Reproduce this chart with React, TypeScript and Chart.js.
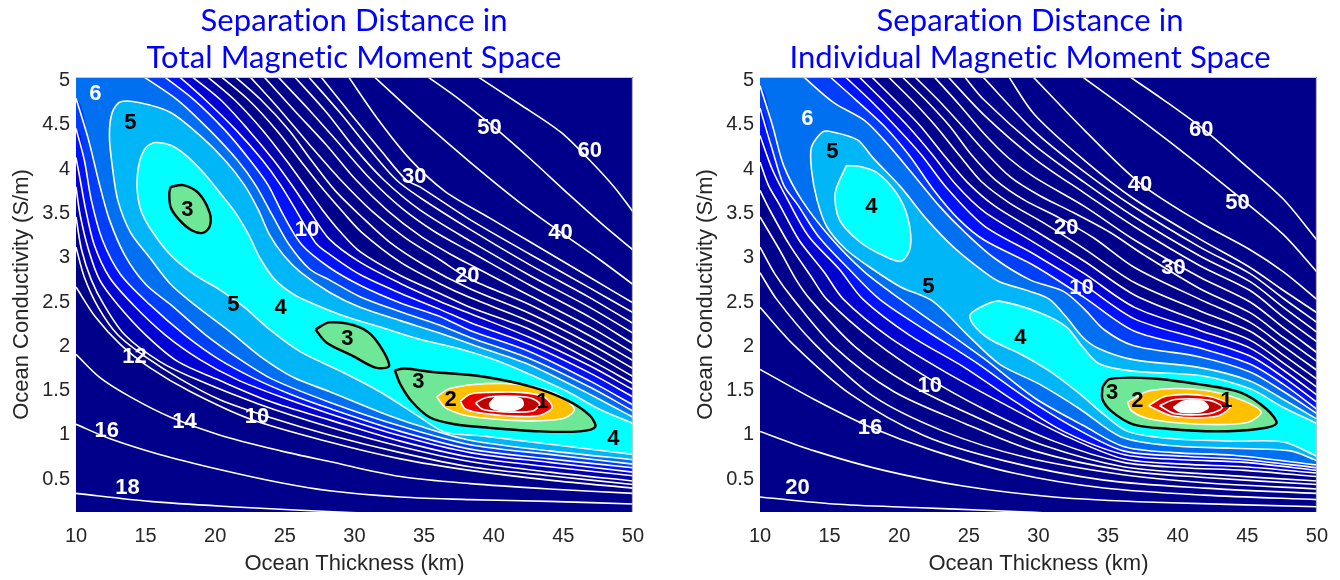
import React, { useEffect, useRef } from "react";
import { Chart, registerables } from "chart.js";

Chart.register(...registerables);

type Pt = [number, number];

// ---------------- axes / text ----------------
const X_TICKS = [10, 15, 20, 25, 30, 35, 40, 45, 50];
const Y_TICKS = [0.5, 1, 1.5, 2, 2.5, 3, 3.5, 4, 4.5, 5];
const X_LABEL = "Ocean Thickness (km)";
const Y_LABEL = "Ocean Conductivity (S/m)";
const A_TITLE = ["Separation Distance in", "Total Magnetic Moment Space"];
const B_TITLE = ["Separation Distance in", "Individual Magnetic Moment Space"];

// ---------------- LEFT panel: contour lines (km, S/m) ----------------
// upper-right family
const A_U60: Pt[] = [[38.7,5.06],[41.9,4.73],[44.8,4.42],[46.9,4.10],[48.7,3.79],[50.0,3.52]];
const A_U50: Pt[] = [[35.1,5.06],[37.6,4.78],[39.9,4.49],[42.6,4.12],[45.5,3.70],[48.0,3.35],[50.0,3.09]];
const A_U40: Pt[] = [[31.3,5.06],[34.7,4.57],[38.3,4.08],[41.9,3.62],[44.8,3.29],[47.6,2.98],[50.0,2.70]];
const A_U30: Pt[] = [[29.5,5.06],[31.7,4.56],[34.0,4.11],[36.5,3.75],[39.7,3.45],[42.6,3.18],[46.9,2.78],[50.0,2.49]];
const A_UC: Pt[] = [[27.5,5.06],[29.9,4.59],[31.9,4.21],[33.7,3.88],[34.7,3.80],[38.3,3.43],[42.6,3.04],[46.9,2.66],[50.0,2.38]];
const A_UB: Pt[] = [[26.6,5.06],[29.0,4.63],[31.0,4.24],[33.0,3.88],[34.7,3.68],[38.3,3.32],[42.6,2.92],[46.9,2.55],[50.0,2.26]];
const A_UA: Pt[] = [[25.6,5.06],[28.0,4.64],[30.0,4.24],[32.1,3.88],[34.7,3.54],[38.3,3.19],[42.6,2.80],[46.9,2.44],[50.0,2.15]];
const A_U20: Pt[] = [[24.4,5.06],[26.8,4.66],[29.0,4.27],[31.2,3.88],[33.4,3.56],[35.8,3.29],[38.3,3.07],[42.6,2.69],[46.9,2.33],[50.0,2.03]];
const A_U18: Pt[] = [[23.4,5.06],[25.7,4.66],[28.0,4.27],[30.1,3.88],[32.4,3.53],[34.7,3.25],[36.9,3.04],[38.7,2.89],[42.6,2.57],[46.9,2.22],[50.0,1.93]];
const A_U16: Pt[] = [[22.4,5.06],[24.7,4.66],[26.8,4.27],[29.0,3.88],[31.3,3.52],[33.6,3.23],[36.1,2.98],[38.3,2.76],[42.6,2.47],[46.9,2.12],[50.0,1.84]];
const A_U14: Pt[] = [[21.3,5.06],[23.3,4.78],[25.3,4.44],[26.9,4.10],[28.6,3.76],[30.4,3.48],[32.5,3.18],[35.1,2.91],[38.3,2.65],[42.6,2.37],[46.9,2.03],[50.0,1.75]];
const A_U12: Pt[] = [[20.3,5.06],[22.4,4.78],[24.4,4.44],[26.1,4.10],[27.5,3.82],[29.2,3.51],[30.5,3.29],[33.3,2.95],[36.1,2.71],[38.3,2.55],[42.6,2.28],[46.9,1.94],[50.0,1.66]];
const A_U10: Pt[] = [[19.3,5.06],[21.4,4.78],[23.4,4.44],[25.1,4.10],[26.4,3.82],[27.7,3.54],[29.0,3.29],[30.4,3.07],[33.3,2.80],[36.1,2.60],[38.3,2.44],[42.6,2.19],[46.9,1.85],[50.0,1.58]];
const A_U9: Pt[] = [[18.2,5.06],[20.4,4.78],[22.4,4.44],[24.2,4.10],[25.5,3.82],[26.8,3.52],[28.2,3.21],[30.4,2.95],[33.3,2.71],[36.1,2.51],[38.3,2.37],[42.6,2.10],[46.9,1.78],[50.0,1.51]];
const A_U8: Pt[] = [[17.3,5.06],[19.3,4.78],[21.5,4.44],[23.4,4.10],[24.7,3.82],[25.9,3.51],[27.2,3.17],[28.2,3.04],[30.4,2.81],[33.3,2.60],[36.1,2.42],[38.3,2.27],[42.6,2.02],[46.9,1.70],[50.0,1.43]];
const A_U7: Pt[] = [[16.2,5.06],[18.5,4.78],[20.7,4.44],[22.5,4.10],[23.8,3.82],[24.9,3.48],[26.2,3.15],[28.2,2.89],[30.4,2.69],[33.3,2.49],[36.1,2.34],[38.3,2.18],[42.6,1.94],[46.9,1.61],[50.0,1.34]];
const A_U6: Pt[] = [[14.7,5.06],[17.3,4.78],[19.6,4.44],[21.6,4.10],[22.9,3.82],[24.1,3.48],[25.3,3.15],[26.8,2.87],[28.2,2.75],[30.4,2.56],[33.3,2.39],[36.1,2.24],[38.3,2.10],[42.6,1.86],[46.9,1.54],[50.0,1.27]];
// lower-left family
const A_D6: Pt[] = [[10.0,4.80],[10.9,4.33],[11.7,3.82],[12.4,3.43],[13.5,3.03],[15.0,2.70],[16.8,2.47],[19.3,2.13],[21.8,1.85],[24.1,1.63],[28.2,1.37],[33.3,1.10],[38.3,0.89],[44.0,0.78],[50.0,0.67]];
const A_D7: Pt[] = [[10.0,4.46],[10.6,4.10],[11.1,3.65],[11.9,3.20],[13.2,2.81],[15.3,2.47],[17.8,2.13],[20.3,1.85],[22.9,1.63],[25.4,1.46],[28.2,1.30],[33.3,1.04],[38.3,0.84],[44.0,0.73],[50.0,0.63]];
const A_D8: Pt[] = [[10.0,4.13],[10.3,3.88],[10.7,3.54],[11.3,3.15],[12.4,2.78],[14.1,2.47],[16.4,2.13],[18.9,1.85],[21.5,1.63],[24.7,1.43],[28.2,1.24],[33.3,0.99],[38.3,0.80],[44.0,0.69],[50.0,0.58]];
const A_D9: Pt[] = [[10.0,3.80],[10.3,3.48],[10.9,3.09],[11.7,2.75],[13.0,2.47],[15.0,2.13],[17.3,1.83],[20.1,1.63],[23.9,1.38],[28.2,1.17],[33.3,0.93],[38.3,0.75],[44.0,0.64],[50.0,0.54]];
const A_D10: Pt[] = [[10.0,3.46],[10.4,3.09],[11.1,2.75],[12.0,2.47],[13.5,2.13],[16.0,1.83],[18.6,1.63],[23.1,1.35],[28.2,1.09],[33.3,0.87],[38.3,0.70],[44.0,0.58],[50.0,0.48]];
const A_D11: Pt[] = [[10.0,3.12],[10.6,2.78],[11.6,2.44],[13.0,2.13],[15.0,1.88],[17.5,1.63],[20.3,1.40],[23.9,1.20],[28.2,1.00],[33.3,0.80],[38.3,0.64],[44.0,0.54],[50.0,0.44]];
const A_D12: Pt[] = [[10.0,2.67],[11.4,2.33],[13.2,2.02],[15.3,1.76],[18.2,1.49],[22.5,1.18],[28.2,0.92],[33.3,0.73],[38.3,0.60],[44.0,0.49],[50.0,0.40]];
const A_D14: Pt[] = [[10.0,1.91],[11.7,1.65],[13.9,1.43],[16.8,1.20],[20.3,1.00],[24.7,0.82],[28.2,0.70],[33.3,0.53],[38.3,0.45],[44.0,0.39],[50.0,0.34]];
const A_D16: Pt[] = [[10.0,1.12],[12.4,0.96],[16.0,0.78],[20.3,0.61],[24.7,0.46],[28.2,0.37],[33.3,0.30],[38.3,0.27],[44.0,0.25],[50.0,0.22]];
const A_D18: Pt[] = [[10.0,0.34],[15.3,0.25],[21.1,0.19],[26.1,0.15],[33.3,0.10]];
// valley contours (U-shaped, open to the right edge)
const A_L5: Pt[] = [[50.0,1.20],[46.9,1.46],[42.6,1.79],[39.0,1.99],[36.1,2.15],[33.3,2.29],[30.4,2.44],[28.2,2.61],[26.1,2.84],[24.9,3.03],[23.9,3.26],[23.1,3.54],[22.1,3.82],[20.7,4.10],[18.9,4.38],[16.8,4.64],[14.6,4.75],[13.2,4.76],[12.6,4.64],[12.4,4.38],[12.6,4.04],[13.0,3.65],[13.9,3.29],[15.3,3.00],[16.8,2.70],[18.5,2.47],[21.1,2.16],[23.2,1.89],[25.6,1.65],[28.2,1.49],[31.8,1.26],[34.7,1.10],[38.3,0.94],[44.0,0.82],[50.0,0.72]];
const A_L4: Pt[] = [[50.0,1.13],[47.6,1.29],[45.3,1.49],[42.8,1.67],[40.4,1.83],[37.6,1.97],[34.7,2.08],[31.8,2.22],[29.3,2.34],[27.2,2.47],[25.7,2.58],[24.3,2.75],[23.2,3.00],[22.4,3.26],[21.4,3.52],[20.3,3.74],[19.1,3.97],[17.8,4.17],[16.8,4.27],[15.7,4.30],[15.0,4.24],[14.5,4.04],[14.4,3.76],[14.7,3.52],[15.5,3.29],[16.8,3.03],[18.5,2.81],[20.3,2.64],[22.1,2.44],[23.9,2.19],[26.1,1.94],[29.0,1.72],[31.8,1.49],[34.7,1.20],[36.5,1.03],[39.0,0.99],[41.2,0.95],[44.8,0.88],[50.0,0.78]];
// closed loops
const A_C3A: Pt[] = [[16.8,3.80],[17.7,3.82],[18.8,3.73],[19.6,3.51],[19.6,3.35],[19.1,3.28],[18.3,3.31],[17.4,3.43],[16.8,3.57],[16.7,3.73]];
const A_C3B: Pt[] = [[27.2,2.19],[28.2,2.27],[30.3,2.22],[31.5,2.08],[32.5,1.78],[31.5,1.76],[29.9,1.89],[28.0,2.04]];
const A_C3C: Pt[] = [[32.9,1.73],[33.6,1.75],[35.6,1.71],[39.2,1.66],[42.8,1.54],[45.3,1.39],[46.9,1.22],[47.3,1.09],[46.2,1.04],[43.3,1.04],[39.7,1.08],[37.2,1.12],[35.4,1.20],[34.1,1.38],[33.3,1.57]];
const A_C2: Pt[] = [[35.9,1.43],[36.8,1.52],[38.6,1.57],[40.8,1.58],[43.0,1.54],[44.8,1.44],[45.8,1.29],[45.1,1.19],[43.3,1.16],[40.8,1.17],[38.3,1.21],[36.6,1.30]];
const A_C1: Pt[] = [[37.6,1.38],[38.3,1.46],[39.7,1.48],[41.9,1.48],[43.6,1.43],[44.2,1.31],[43.3,1.22],[41.5,1.21],[39.4,1.24],[38.0,1.29]];
const A_C075: Pt[] = [[38.7,1.36],[39.4,1.42],[40.8,1.44],[42.6,1.42],[43.3,1.35],[42.8,1.27],[40.8,1.26],[39.2,1.29]];
const A_C05: Pt[] = [[39.7,1.35],[40.1,1.42],[41.1,1.43],[42.0,1.40],[42.1,1.33],[41.5,1.28],[40.4,1.28],[39.8,1.31]];
// contour labels [x, y, text, dark]
const A_LABELS: [number, number, string, number][] = [
  [11.4,4.85,"6",0],[13.9,4.52,"5",1],[18.0,3.54,"3",1],[26.6,3.31,"10",0],[34.3,3.91,"30",0],
  [39.7,4.46,"50",0],[46.9,4.21,"60",0],[44.8,3.28,"40",0],[38.1,2.80,"20",0],[21.3,2.47,"5",1],
  [24.7,2.43,"4",1],[29.5,2.08,"3",1],[14.2,1.88,"12",0],[34.6,1.60,"3",1],[36.9,1.40,"2",1],
  [43.5,1.37,"1",1],[17.8,1.15,"14",0],[23.0,1.20,"10",0],[12.2,1.04,"16",0],[48.6,0.96,"4",1],[13.7,0.40,"18",0],
];

// ---------------- RIGHT panel ----------------
const B_U60: Pt[] = [[36.4,5.06],[39.0,4.78],[41.7,4.47],[44.8,4.05],[47.6,3.66],[50.0,3.20]];
const B_U50: Pt[] = [[33.0,5.06],[36.9,4.61],[40.4,4.19],[44.3,3.70],[47.6,3.26],[50.0,2.84]];
const B_U40: Pt[] = [[29.5,5.06],[33.3,4.44],[37.3,3.84],[41.6,3.40],[45.2,3.09],[47.6,2.84],[50.0,2.53]];
const B_U30: Pt[] = [[27.8,5.06],[29.7,4.62],[33.3,4.10],[36.9,3.66],[41.6,3.21],[45.2,2.89],[47.6,2.63],[50.0,2.38]];
const B_UB: Pt[] = [[25.9,5.06],[29.7,4.43],[33.3,3.97],[36.9,3.57],[41.6,3.12],[45.2,2.82],[47.6,2.54],[50.0,2.27]];
const B_UA: Pt[] = [[24.6,5.06],[26.1,4.78],[29.7,4.27],[33.3,3.85],[36.9,3.46],[41.6,3.02],[45.2,2.73],[47.6,2.44],[50.0,2.16]];
const B_U20: Pt[] = [[23.4,5.06],[26.1,4.61],[29.7,4.12],[33.3,3.73],[36.9,3.35],[41.6,2.91],[45.2,2.63],[47.6,2.33],[50.0,2.05]];
const B_U18: Pt[] = [[22.4,5.06],[24.3,4.73],[26.1,4.40],[27.9,4.12],[29.7,3.91],[33.3,3.58],[36.9,3.20],[41.6,2.78],[45.2,2.50],[47.6,2.21],[50.0,1.93]];
const B_U16: Pt[] = [[21.0,5.06],[22.8,4.78],[24.5,4.49],[26.2,4.19],[28.0,3.91],[30.1,3.70],[32.5,3.51],[35.1,3.29],[37.6,3.03],[41.6,2.65],[45.2,2.38],[47.6,2.10],[50.0,1.83]];
const B_U14: Pt[] = [[20.1,5.06],[21.9,4.78],[23.6,4.49],[25.2,4.16],[26.9,3.88],[29.0,3.65],[31.5,3.45],[34.0,3.22],[36.9,2.89],[41.6,2.53],[45.2,2.27],[47.6,2.00],[50.0,1.73]];
const B_U12: Pt[] = [[19.1,5.06],[20.9,4.78],[22.6,4.49],[24.3,4.16],[25.9,3.86],[27.9,3.62],[30.4,3.39],[33.3,3.10],[36.9,2.72],[41.6,2.40],[45.2,2.17],[47.6,1.90],[50.0,1.63]];
const B_U10: Pt[] = [[17.9,5.06],[19.7,4.78],[21.5,4.49],[23.2,4.16],[24.9,3.85],[26.8,3.59],[29.7,3.31],[33.3,2.96],[36.9,2.58],[41.6,2.28],[45.2,2.07],[47.6,1.81],[50.0,1.54]];
const B_U9: Pt[] = [[17.0,5.06],[18.8,4.78],[20.6,4.49],[22.4,4.16],[24.1,3.82],[26.1,3.52],[29.7,3.17],[33.3,2.82],[36.9,2.44],[41.6,2.18],[45.2,1.98],[47.6,1.73],[50.0,1.45]];
const B_U8: Pt[] = [[16.0,5.06],[17.9,4.78],[19.7,4.49],[21.6,4.16],[23.4,3.79],[26.1,3.36],[29.7,3.04],[33.3,2.69],[36.9,2.31],[41.6,2.08],[45.2,1.89],[47.6,1.65],[50.0,1.37]];
const B_U7: Pt[] = [[14.9,5.06],[16.9,4.78],[18.9,4.49],[20.7,4.16],[22.5,3.76],[24.3,3.43],[26.1,3.20],[29.7,2.91],[33.3,2.55],[36.9,2.17],[41.6,1.98],[45.2,1.80],[47.6,1.57],[50.0,1.29]];
const B_U6: Pt[] = [[13.0,5.06],[15.3,4.75],[17.5,4.55],[18.9,4.33],[20.9,3.96],[22.9,3.58],[24.7,3.29],[26.8,3.00],[29.4,2.75],[31.8,2.62],[33.3,2.42],[34.7,2.19],[36.8,2.01],[41.6,1.88],[45.2,1.71],[47.6,1.49],[50.0,1.24]];
const B_D6: Pt[] = [[10.0,4.94],[10.9,4.49],[11.7,4.04],[13.0,3.65],[15.0,3.24],[17.5,2.84],[20.1,2.53],[22.9,2.22],[26.1,1.86],[29.7,1.42],[33.3,1.10],[36.1,0.87],[39.7,0.80],[44.0,0.77],[50.0,0.66]];
const B_D7: Pt[] = [[10.0,4.69],[10.9,4.21],[11.7,3.82],[12.7,3.60],[14.2,3.24],[16.4,2.87],[18.6,2.53],[21.8,2.19],[25.4,1.83],[29.0,1.43],[32.5,1.09],[36.1,0.82],[40.4,0.76],[44.8,0.72],[50.0,0.63]];
const B_D8: Pt[] = [[10.0,4.38],[10.9,3.99],[12.0,3.65],[13.5,3.24],[15.7,2.87],[17.4,2.53],[20.7,2.13],[24.7,1.76],[28.2,1.39],[31.8,1.04],[36.1,0.78],[40.4,0.72],[44.8,0.69],[50.0,0.60]];
const B_D9: Pt[] = [[10.0,4.08],[10.6,3.82],[11.4,3.60],[12.8,3.20],[14.6,2.84],[16.0,2.53],[19.3,2.10],[23.2,1.72],[27.5,1.35],[31.8,1.00],[36.1,0.73],[40.4,0.67],[44.8,0.64],[50.0,0.57]];
const B_D10: Pt[] = [[10.0,3.76],[10.7,3.54],[12.1,3.15],[13.7,2.78],[14.8,2.53],[18.2,2.06],[22.0,1.65],[26.1,1.29],[31.1,0.93],[36.1,0.69],[40.4,0.63],[44.8,0.60],[50.0,0.53]];
const B_D11: Pt[] = [[10.0,3.46],[11.4,3.09],[12.6,2.75],[13.6,2.53],[16.8,2.00],[20.6,1.58],[25.4,1.21],[30.4,0.88],[36.1,0.64],[41.9,0.56],[50.0,0.48]];
const B_D12: Pt[] = [[10.0,3.12],[11.1,2.81],[12.4,2.53],[15.3,2.00],[19.6,1.49],[24.7,1.13],[29.7,0.82],[36.1,0.60],[41.9,0.52],[50.0,0.44]];
const B_D13: Pt[] = [[10.0,2.83],[11.2,2.53],[13.9,2.03],[18.1,1.44],[23.2,1.04],[29.0,0.75],[36.1,0.55],[41.9,0.46],[50.0,0.39]];
const B_D14: Pt[] = [[10.0,2.44],[12.4,2.02],[16.5,1.46],[21.8,0.99],[27.5,0.71],[34.7,0.49],[41.9,0.40],[50.0,0.34]];
const B_D16: Pt[] = [[10.0,1.74],[13.9,1.40],[17.9,1.09],[22.5,0.82],[28.2,0.57],[34.7,0.40],[41.9,0.32],[50.0,0.27]];
const B_D18: Pt[] = [[10.0,1.04],[13.9,0.82],[18.9,0.60],[24.7,0.42],[31.1,0.30],[38.3,0.24],[50.0,0.19]];
const B_D20: Pt[] = [[10.0,0.30],[15.3,0.22],[21.1,0.18],[26.1,0.15],[33.3,0.10]];
const B_L5: Pt[] = [[50.0,1.18],[47.6,1.40],[45.2,1.61],[41.6,1.76],[36.8,1.85],[34.4,1.97],[33.2,2.10],[32.0,2.33],[30.8,2.53],[29.4,2.62],[27.2,2.73],[26.1,2.84],[23.9,3.12],[22.0,3.43],[20.1,3.80],[18.1,4.13],[17.0,4.33],[15.2,4.42],[14.5,4.42],[13.7,4.25],[13.7,3.99],[14.1,3.65],[14.8,3.35],[16.2,3.09],[18.1,2.87],[20.1,2.67],[22.4,2.51],[24.9,2.13],[27.2,1.80],[30.1,1.57],[33.0,1.29],[35.9,0.98],[39.4,0.88],[43.8,0.85],[48.1,0.82],[50.0,0.71]];
const B_L4: Pt[] = [[50.0,1.13],[47.6,1.31],[45.2,1.52],[41.6,1.67],[36.8,1.72],[34.4,1.80],[33.2,1.99],[32.0,2.22],[30.1,2.38],[27.2,2.51],[26.2,2.47],[25.1,2.36],[25.3,2.25],[26.5,2.08],[28.5,1.93],[30.8,1.72],[33.0,1.46],[34.4,1.27],[36.4,1.04],[39.4,0.96],[43.8,0.93],[47.6,0.92],[50.0,0.76]];
const B_C4A: Pt[] = [[16.2,4.04],[15.4,3.73],[15.7,3.43],[17.0,3.20],[18.4,3.06],[20.1,2.96],[20.8,3.12],[20.6,3.46],[19.8,3.73],[18.4,3.96],[17.2,4.03]];
const B_C3: Pt[] = [[34.6,1.54],[35.1,1.63],[38.0,1.64],[41.6,1.57],[44.5,1.48],[46.4,1.29],[47.1,1.13],[45.9,1.07],[42.8,1.04],[39.2,1.07],[36.8,1.12],[35.3,1.26],[34.6,1.40]];
const B_C2: Pt[] = [[36.4,1.37],[38.0,1.50],[41.6,1.51],[44.5,1.40],[46.0,1.26],[45.0,1.14],[41.6,1.12],[38.0,1.18],[36.7,1.27]];
const B_C1: Pt[] = [[37.9,1.33],[39.2,1.44],[42.1,1.44],[43.8,1.33],[42.8,1.21],[39.7,1.21]];
const B_C075: Pt[] = [[38.7,1.33],[39.8,1.40],[42.3,1.39],[43.2,1.31],[42.3,1.24],[39.8,1.24]];
const B_C05: Pt[] = [[39.7,1.31],[40.4,1.38],[41.8,1.38],[42.2,1.31],[41.6,1.26],[40.2,1.26]];
const B_LABELS: [number, number, string, number][] = [
  [13.4,4.57,"6",0],[15.2,4.19,"5",1],[18.0,3.57,"4",1],[41.7,4.44,"60",0],[37.3,3.82,"40",0],
  [44.3,3.62,"50",0],[32.0,3.34,"20",0],[39.7,2.89,"30",0],[33.1,2.66,"10",0],[22.1,2.67,"5",1],
  [28.7,2.09,"4",1],[22.2,1.55,"10",0],[17.9,1.08,"16",0],[35.3,1.47,"3",1],[37.1,1.38,"2",1],
  [43.5,1.38,"1",1],[12.7,0.40,"20",0],
];

// ---------------- styles ----------------
const NAVY = "rgb(0,0,139)";
const BAND = {
  b9: "rgb(0,0,172)",
  b8: "rgb(0,0,210)",
  b7: "rgb(0,18,252)",
  b6: "rgb(0,62,250)",
  b5: "rgb(0,112,240)",
  b4: "rgb(0,182,246)",
  b3: "rgb(0,255,255)",
  b2: "rgb(110,232,150)",
  b1: "rgb(255,192,0)",
  red: "rgb(230,0,0)",
  dred: "rgb(190,0,0)",
  white: "rgb(255,255,255)",
};
const TEXT = "#262626";
const AXIS_FONT = '"Liberation Sans", Arial, Helvetica, sans-serif';
const TENSION = 0.3;
const W = 656;
const H = 580;

// ---------------- helpers ----------------
const xy = (a: Pt[]) => a.map(([x, y]) => ({ x, y }));
const closed = (a: Pt[]): Pt[] => [...a, a[0]];
function openBand(upper: Pt[], lower: Pt[]): Pt[] {
  const ue = upper[upper.length - 1];
  const le = lower[lower.length - 1];
  const pts: Pt[] = [...upper, [53, ue[1]], [53, le[1]]];
  for (let i = lower.length - 1; i >= 0; i--) pts.push(lower[i]);
  pts.push([7, lower[0][1]], [7, 5.6], [upper[0][0], 5.6]);
  return pts;
}
function uBand(c: Pt[]): Pt[] {
  const a = c[0];
  const b = c[c.length - 1];
  return [...c, [53, b[1]], [53, a[1]]];
}
const fillDs = (p: Pt[], color: string) => ({
  data: xy(p), showLine: true, fill: "shape", backgroundColor: color,
  borderColor: "rgba(0,0,0,0)", borderWidth: 0, pointRadius: 0, tension: TENSION,
});
const lineDs = (p: Pt[], color: string, w: number) => ({
  data: xy(p), showLine: true, fill: false, borderColor: color,
  borderWidth: w, pointRadius: 0, tension: TENSION,
});

const bgPlugin = {
  id: "plotBg",
  beforeDatasetsDraw(chart: any) {
    const { ctx, chartArea: a } = chart;
    ctx.save();
    ctx.fillStyle = NAVY;
    ctx.fillRect(a.left, a.top, a.right - a.left, a.bottom - a.top);
    ctx.restore();
  },
  afterDatasetsDraw(chart: any) {
    const { ctx, chartArea: a } = chart;
    ctx.save();
    ctx.strokeStyle = "#c8c8c8";
    ctx.lineWidth = 1;
    ctx.beginPath();
    ctx.moveTo(a.left, a.top + 0.5);
    ctx.lineTo(a.right - 0.5, a.top + 0.5);
    ctx.lineTo(a.right - 0.5, a.bottom);
    ctx.stroke();
    ctx.restore();
  },
};

const labelPlugin = {
  id: "contourLabels",
  afterDatasetsDraw(chart: any, _a: any, opts: any) {
    const { ctx, scales } = chart;
    const a = chart.chartArea;
    ctx.save();
    ctx.beginPath();
    ctx.rect(a.left, a.top, a.right - a.left, a.bottom - a.top);
    ctx.clip();
    ctx.font = `bold 22px ${AXIS_FONT}`;
    ctx.textAlign = "center";
    ctx.textBaseline = "middle";
    for (const [vx, vy, t, dark] of opts.items) {
      ctx.fillStyle = dark ? "#000000" : "#ffffff";
      ctx.fillText(t, scales.x.getPixelForValue(vx), scales.y.getPixelForValue(vy));
    }
    ctx.restore();
  },
};

const titlePlugin = {
  id: "panelTitle",
  afterDraw(chart: any, _a: any, opts: any) {
    const { ctx } = chart;
    ctx.save();
    ctx.font = `31px Lato, "Open Sans", sans-serif`;
    try { ctx.textRendering = "optimizeSpeed"; } catch (e) { /* ignore */ }
    try { ctx.letterSpacing = "0.1px"; } catch (e) { /* ignore */ }
    ctx.fillStyle = "#0000ff";
    ctx.textAlign = "center";
    ctx.textBaseline = "alphabetic";
    opts.lines.forEach((t: string, i: number) => ctx.fillText(t, opts.cx, opts.baselines[i]));
    ctx.restore();
  },
};

function makeConfig(spec: any) {
  const ds: any[] = [
    ...spec.fills.map(([p, c]: [Pt[], string]) => fillDs(p, c)),
    ...spec.white.map((p: Pt[]) => lineDs(p, "#ffffff", 1.6)),
    ...spec.black.map((p: Pt[]) => lineDs(p, "#000000", 2.4)),
  ];
  ds.forEach((d, i) => (d.order = ds.length - i));
  return {
    type: "scatter",
    data: { datasets: ds },
    options: {
      animation: false,
      responsive: false,
      maintainAspectRatio: false,
      events: [],
      layout: { padding: { top: 77, left: 0, right: W - 633, bottom: 0 } },
      elements: { line: { capBezierPoints: false }, point: { radius: 0 } },
      plugins: {
        legend: { display: false },
        tooltip: { enabled: false },
        title: { display: false },
        contourLabels: { items: spec.labels },
        panelTitle: { lines: spec.title, cx: spec.titleX, baselines: [31, 68] },
      },
      scales: {
        x: {
          type: "linear", min: 10, max: 50,
          grid: { display: false, drawTicks: false }, border: { display: false },
          afterBuildTicks: (s: any) => { s.ticks = X_TICKS.map((v) => ({ value: v })); },
          afterFit: (s: any) => { s.height = 68; },
          ticks: { padding: 12, color: TEXT, font: { family: AXIS_FONT, size: 20 }, maxRotation: 0, autoSkip: false, callback: (v: any) => String(v) },
          title: { display: true, text: X_LABEL, color: TEXT, font: { family: AXIS_FONT, size: 22 }, padding: { top: 0, bottom: 3 } },
        },
        y: {
          type: "linear", min: 0.13, max: 5.04,
          grid: { display: false, drawTicks: false }, border: { display: false },
          afterBuildTicks: (s: any) => { s.ticks = Y_TICKS.map((v) => ({ value: v })); },
          afterFit: (s: any) => { s.width = 76; },
          ticks: { padding: 6, color: TEXT, font: { family: AXIS_FONT, size: 20 }, autoSkip: false, callback: (v: any) => String(v) },
          title: { display: true, text: Y_LABEL, color: TEXT, font: { family: AXIS_FONT, size: 22 }, padding: { top: 9, bottom: 0 } },
        },
      },
    },
    plugins: [bgPlugin, labelPlugin, titlePlugin],
  };
}

const LEFT_SPEC = () => ({
  fills: [
    [openBand(A_U10, A_D10), BAND.b9],
    [openBand(A_U9, A_D9), BAND.b8],
    [openBand(A_U8, A_D8), BAND.b7],
    [openBand(A_U7, A_D7), BAND.b6],
    [openBand(A_U6, A_D6), BAND.b5],
    [uBand(A_L5), BAND.b4],
    [uBand(A_L4), BAND.b3],
    [closed(A_C3A), BAND.b2],
    [closed(A_C3B), BAND.b2],
    [closed(A_C3C), BAND.b2],
    [closed(A_C2), BAND.b1],
    [closed(A_C1), BAND.red],
    [closed(A_C075), BAND.dred],
    [closed(A_C05), BAND.white],
  ],
  white: [
    A_U60, A_U50, A_U40, A_U30, A_UC, A_UB, A_UA, A_U20, A_U18, A_U16, A_U14, A_U12, A_U10, A_U9, A_U8, A_U7, A_U6,
    A_D6, A_D7, A_D8, A_D9, A_D10, A_D11, A_D12, A_D14, A_D16, A_D18,
    A_L5, A_L4, closed(A_C2), closed(A_C1), closed(A_C075), closed(A_C05),
  ],
  black: [closed(A_C3A), closed(A_C3B), closed(A_C3C)],
  labels: A_LABELS,
  title: A_TITLE,
  titleX: 354,
});

const RIGHT_SPEC = () => ({
  fills: [
    [openBand(B_U10, B_D10), BAND.b9],
    [openBand(B_U9, B_D9), BAND.b8],
    [openBand(B_U8, B_D8), BAND.b7],
    [openBand(B_U7, B_D7), BAND.b6],
    [openBand(B_U6, B_D6), BAND.b5],
    [uBand(B_L5), BAND.b4],
    [uBand(B_L4), BAND.b3],
    [closed(B_C4A), BAND.b3],
    [closed(B_C3), BAND.b2],
    [closed(B_C2), BAND.b1],
    [closed(B_C1), BAND.red],
    [closed(B_C075), BAND.dred],
    [closed(B_C05), BAND.white],
  ],
  white: [
    B_U60, B_U50, B_U40, B_U30, B_UB, B_UA, B_U20, B_U18, B_U16, B_U14, B_U12, B_U10, B_U9, B_U8, B_U7, B_U6,
    B_D6, B_D7, B_D8, B_D9, B_D10, B_D11, B_D12, B_D13, B_D14, B_D16, B_D18, B_D20,
    B_L5, B_L4, closed(B_C4A), closed(B_C2), closed(B_C1), closed(B_C075), closed(B_C05),
  ],
  black: [closed(B_C3)],
  labels: B_LABELS,
  title: B_TITLE,
  titleX: 346,
});

function Panel({ spec, left }: { spec: () => any; left: number }) {
  const ref = useRef<HTMLCanvasElement | null>(null);
  useEffect(() => {
    if (!ref.current) return;
    const chart = new Chart(ref.current, makeConfig(spec()) as any);
    return () => chart.destroy();
  }, [spec]);
  return (
    <canvas
      ref={ref}
      width={W}
      height={H}
      style={{ position: "absolute", left, top: 0, width: W, height: H }}
    />
  );
}

export default function App() {
  return (
    <div style={{ position: "absolute", left: 0, top: 0, width: 1340, height: 580, background: "#ffffff", overflow: "hidden" }}>
      <Panel spec={LEFT_SPEC} left={0} />
      <Panel spec={RIGHT_SPEC} left={684} />
    </div>
  );
}
